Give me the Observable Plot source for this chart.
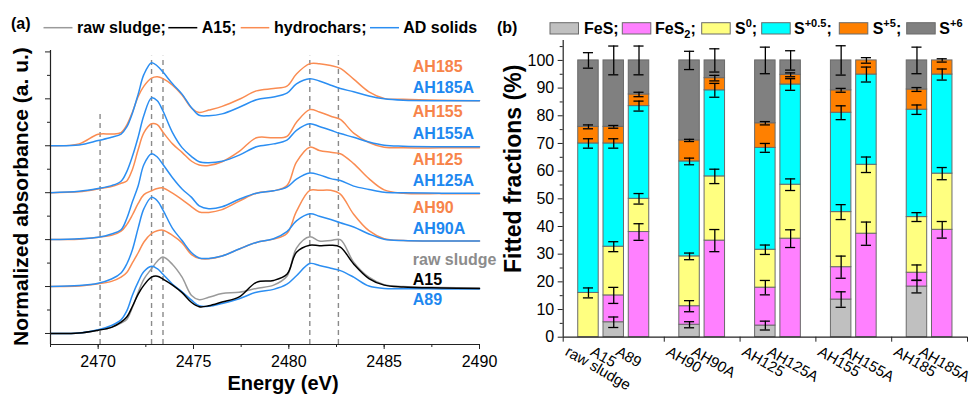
<!DOCTYPE html>
<html><head><meta charset="utf-8">
<script src="https://cdn.jsdelivr.net/npm/d3@7"></script>
<script src="https://cdn.jsdelivr.net/npm/@observablehq/plot@0.6"></script>
<style>
body{margin:0;background:#fff;}
#wrap{position:relative;width:973px;height:394px;overflow:hidden;background:#fff;}
</style></head><body><div id="wrap"></div>
<script>
// ---------- Panel (a): S K-edge XANES spectra ----------
const energy = [2467.5, 2469, 2470, 2470.7, 2471.2, 2471.5, 2471.8, 2472.1, 2472.4, 2472.8, 2473.1, 2473.4, 2473.9, 2474.4, 2474.9, 2475.3, 2475.8, 2476.5, 2477.4, 2478.3, 2479.2, 2479.9, 2480.4, 2481.1, 2481.6, 2482.2, 2482.7, 2483.4, 2484.2, 2485, 2486, 2488, 2490];
const rawSludge = [0, 0.01, 0.07, 0.13, 0.22, 0.30, 0.56, 0.88, 1.16, 1.38, 1.54, 1.63, 1.47, 1.20, 0.81, 0.72, 0.77, 0.85, 0.88, 0.96, 1.03, 1.22, 1.82, 2.06, 1.97, 1.98, 2.00, 1.52, 1.20, 1.04, 1.00, 0.98, 0.97];
const a15 = [0, 0.01, 0.07, 0.13, 0.24, 0.35, 0.58, 0.84, 1.03, 1.20, 1.22, 1.16, 1.03, 0.87, 0.66, 0.57, 0.59, 0.67, 0.78, 1.09, 1.13, 1.26, 1.73, 1.88, 1.87, 1.88, 1.84, 1.48, 1.17, 1.03, 0.99, 0.97, 0.96];
const a89 = [0, 0.01, 0.08, 0.17, 0.29, 0.48, 0.82, 1.10, 1.32, 1.43, 1.38, 1.26, 1.05, 0.89, 0.71, 0.59, 0.58, 0.64, 0.74, 0.88, 0.94, 1.05, 1.23, 1.49, 1.45, 1.39, 1.34, 1.20, 1.01, 0.96, 0.955, 0.95, 0.95];
const ah90 = [0, 0.01, 0.06, 0.11, 0.20, 0.30, 0.51, 0.72, 0.95, 1.13, 1.19, 1.20, 1.09, 0.93, 0.68, 0.60, 0.59, 0.65, 0.80, 0.94, 1.01, 1.13, 1.60, 2.05, 2.05, 2.05, 1.97, 1.54, 1.19, 1.02, 0.98, 0.97, 0.97];
const ah90A = [0, 0.02, 0.07, 0.16, 0.29, 0.48, 0.79, 1.25, 1.66, 1.90, 1.83, 1.63, 1.24, 0.98, 0.72, 0.61, 0.60, 0.65, 0.80, 0.94, 1.02, 1.17, 1.40, 1.55, 1.50, 1.43, 1.36, 1.27, 1.12, 1.01, 0.98, 0.97, 0.97];
const ah125 = [0, 0.01, 0.05, 0.09, 0.18, 0.32, 0.53, 0.77, 0.96, 1.04, 1.09, 1.10, 0.99, 0.85, 0.70, 0.59, 0.58, 0.64, 0.82, 0.99, 1.04, 1.15, 1.65, 1.97, 1.90, 1.86, 1.83, 1.62, 1.30, 1.06, 0.99, 0.98, 0.98];
const ah125A = [0, 0.02, 0.05, 0.12, 0.21, 0.45, 0.81, 1.15, 1.60, 1.83, 1.76, 1.60, 1.32, 1.08, 0.90, 0.72, 0.66, 0.70, 0.86, 0.99, 1.04, 1.12, 1.29, 1.42, 1.38, 1.30, 1.26, 1.14, 1.07, 1.01, 1.00, 0.99, 0.99];
const ah155 = [0, 0.02, 0.08, 0.13, 0.20, 0.25, 0.50, 0.92, 1.28, 1.47, 1.45, 1.29, 1.04, 0.86, 0.67, 0.59, 0.58, 0.66, 0.88, 1.17, 1.17, 1.20, 1.50, 1.77, 1.72, 1.63, 1.56, 1.27, 1.07, 0.97, 0.955, 0.955, 0.955];
const ah155A = [0, 0.03, 0.09, 0.15, 0.245, 0.45, 0.78, 1.19, 1.65, 2.02, 1.96, 1.74, 1.28, 0.96, 0.77, 0.66, 0.64, 0.67, 0.80, 0.98, 1.04, 1.12, 1.33, 1.47, 1.41, 1.33, 1.26, 1.18, 1.08, 1.01, 0.99, 0.98, 0.98];
const ah185 = [0, 0.04, 0.245, 0.25, 0.28, 0.44, 0.72, 1.05, 1.27, 1.44, 1.47, 1.43, 1.29, 1.08, 0.80, 0.71, 0.76, 0.84, 0.99, 1.17, 1.22, 1.27, 1.53, 1.75, 1.75, 1.71, 1.65, 1.42, 1.15, 1.01, 0.99, 0.97, 0.96];
const ah185A = [0, 0.015, 0.11, 0.18, 0.25, 0.40, 0.70, 1.10, 1.52, 1.77, 1.70, 1.57, 1.32, 1.10, 0.81, 0.65, 0.64, 0.68, 0.82, 0.98, 1.04, 1.12, 1.32, 1.43, 1.38, 1.29, 1.22, 1.15, 1.06, 1.00, 0.97, 0.96, 0.96];

const spectrumNames = ["raw sludge", "A15", "A89", "AH90", "AH90A", "AH125", "AH125A", "AH155", "AH155A", "AH185", "AH185A"];
const spectrumValues = [rawSludge, a15, a89, ah90, ah90A, ah125, ah125A, ah155, ah155A, ah185, ah185A];
const stackOffset = [0, 0, 0, 1, 1, 2, 2, 3, 3, 4, 4];
const spectrumKind = ["raw", "A15", "AD", "HC", "AD", "HC", "AD", "HC", "AD", "HC", "AD"];

const dashEnergy = [2470.1, 2472.8, 2473.4, 2481.1, 2482.6];
const dashTop = [4.68, 5.91, 5.91, 5.91, 5.91];

const labelText = ["AH185", "AH185A", "AH155", "AH155A", "AH125", "AH125A", "AH90", "AH90A", "raw sludge", "A15", "A89"];
const labelKind = ["HC", "AD", "HC", "AD", "HC", "AD", "HC", "AD", "raw", "A15", "AD"];
const labelY = [5.68, 5.24, 4.72, 4.26, 3.70, 3.25, 2.67, 2.22, 1.56, 1.14, 0.72];
const labelE = 2486.5;

const energyTicks = [2470, 2475, 2480, 2485, 2490];

// ---------- Panel (b): fitted fractions ----------
const samples = ["raw sludge", "A15", "A89", "AH90", "AH90A", "AH125", "AH125A", "AH155", "AH155A", "AH185", "AH185A"];
const groupSizes = [3, 2, 2, 2, 2];
const componentNames = ["FeS", "FeS2", "S0", "S+0.5", "S+5", "S+6"];
const fes   = [0, 5.4, 0, 4.5, 0, 4.2, 0, 13.6, 0, 18.3, 0];
const fes2  = [0, 9.7, 38, 6.7, 34.9, 13.7, 35.6, 11.7, 37.4, 5, 38.8];
const s0    = [16, 17.6, 12, 18, 23.2, 13.7, 19.5, 19.9, 24.9, 20.1, 20.3];
const s05   = [54, 37.3, 33.5, 34.3, 31.1, 36.8, 36.2, 35.9, 32.6, 38.8, 35.8];
const s5    = [6, 6, 4.2, 7.6, 4.4, 8.9, 3.5, 8.1, 5.1, 7.3, 5.1];
const s6    = [24, 24, 12.3, 28.9, 6.4, 22.7, 5.2, 10.8, 0, 10.5, 0];
const fesErr  = [0, 1.9, 0, 1.1, 0, 1.6, 0, 2.8, 0, 2.3, 0];
const fes2Err = [0, 2.9, 3.0, 2.0, 4.0, 2.6, 3.2, 4.0, 4.2, 2.8, 3.0];
const s0Err   = [1.8, 1.8, 1.9, 1.2, 2.6, 1.7, 2.1, 2.7, 2.8, 1.6, 2.2];
const s05Err  = [1.7, 1.7, 1.8, 1.2, 2.5, 1.6, 2.1, 2.5, 2.7, 1.7, 2.0];
const s5Err   = [0.7, 0.5, 0.8, 0.4, 1.0, 0.6, 0.7, 0.7, 1.0, 0.7, 0.6];
const s6Err   = [2.8, 5.2, 5.2, 3.3, 4.2, 4.8, 3.5, 5.3, 0, 4.8, 0];
const fractionTicks = [0, 10, 20, 30, 40, 50, 60, 70, 80, 90, 100];

// ---------- styles ----------
const FONT = "'Liberation Sans', Arial, sans-serif";
const kindColor = {raw: "#9a9a9a", A15: "#000000", HC: "#fa8c52", AD: "#2b8ef2"};
const labelColor = {raw: "#8c8c8c", A15: "#000000", HC: "#f7844a", AD: "#1e88f0"};
const compColor = ["#c0c0c0", "#ff80ff", "#ffff80", "#00ffff", "#ff8000", "#808080"];

const wrap = document.getElementById("wrap");

// Panel (a)
const Y0 = -0.235;
const drawOrder = [9, 10, 7, 8, 5, 6, 3, 4, 0, 2, 1];
const lineMarks = drawOrder.map(k => Plot.line(
  energy.map((e, i) => ({e, a: spectrumValues[k][i] + stackOffset[k]})),
  {x: "e", y: "a", stroke: kindColor[spectrumKind[k]], strokeWidth: 1.5, curve: "catmull-rom"}));

const plotA = Plot.plot({
  width: 490, height: 394,
  marginLeft: 50, marginRight: 11, marginTop: 50, marginBottom: 50,
  x: {domain: [2467.5, 2490]},
  y: {domain: [Y0, 6.03]},
  style: {fontFamily: FONT, fontSize: "16px", color: "#000", background: "transparent", overflow: "visible"},
  marks: [
    Plot.ruleX(dashEnergy.map((e, i) => ({e, top: dashTop[i]})), {x: "e", y1: Y0, y2: "top", stroke: "#8a8a8a", strokeWidth: 1.4, strokeDasharray: "5,4"}),
    ...lineMarks,
    Plot.text(labelText.map((t, i) => ({t, y: labelY[i], k: labelKind[i]})), {x: labelE, y: "y", text: "t", fill: d => labelColor[d.k], textAnchor: "start", lineAnchor: "middle", fontWeight: "bold", fontSize: 16}),
    Plot.axisX({ticks: energyTicks, tickSize: 5, tickPadding: 6, tickFormat: d => String(d), label: null, stroke: "#222"}),
    Plot.axisX({ticks: d3.range(2467.5, 2490.1, 2.5), tickSize: 3, tickFormat: () => "", label: null, stroke: "#222"}),
    Plot.axisY({ticks: d3.range(0, 7), tickSize: 5, tickFormat: () => "", label: null, stroke: "#222"}),
    Plot.axisY({ticks: d3.range(0.5, 6, 1), tickSize: 3, tickFormat: () => "", label: null, stroke: "#222"}),
    Plot.ruleX([2467.5], {stroke: "#222", strokeWidth: 1.2}),
    Plot.ruleY([Y0], {stroke: "#222", strokeWidth: 1.2}),
    Plot.text(["Energy (eV)"], {frameAnchor: "bottom", textAnchor: "middle", lineAnchor: "middle", dx: 18, dy: 39, fontWeight: "bold", fontSize: 20}),
    Plot.text(["Normalized absorbance (a. u.)"], {frameAnchor: "left", textAnchor: "middle", lineAnchor: "middle", rotate: -90, dx: -29, dy: -1, fontWeight: "bold", fontSize: 21})
  ]
});
plotA.style.position = "absolute"; plotA.style.left = "0px"; plotA.style.top = "0px";
wrap.appendChild(plotA);

// Panel (b)
const slot = [];
const separators = [0];
{ let s = 1; groupSizes.forEach(n => { for (let i = 0; i < n; i++) slot.push(s++); separators.push(s); s++; }); }
const xMax = separators[separators.length - 1];
const compValues = [fes, fes2, s0, s05, s5, s6];
const compErrors = [fesErr, fes2Err, s0Err, s05Err, s5Err, s6Err];
const segs = [], errs = [];
samples.forEach((name, i) => {
  let cum = 0;
  compValues.forEach((vals, c) => {
    const v = vals[i];
    if (v > 0) {
      segs.push({c, x1: slot[i] - 0.405, x2: slot[i] + 0.405, y1: cum, y2: cum + v});
    }
    cum += v;
    const e = compErrors[c][i];
    if (e > 0) errs.push({x: slot[i], y: cum, lo: cum - e, hi: cum + e});
  });
});
const barHalfCap = 0.2;

const plotB = Plot.plot({
  width: 483, height: 394,
  marginLeft: 72.7, marginRight: 6, marginTop: 40, marginBottom: 57.3,
  x: {domain: [0, xMax]},
  y: {domain: [0, 107.2]},
  style: {fontFamily: FONT, fontSize: "16px", color: "#000", background: "transparent", overflow: "visible"},
  marks: [
    ...compColor.map((col, c) => Plot.rect(segs.filter(d => d.c === c), {x1: "x1", x2: "x2", y1: "y1", y2: "y2", fill: col, stroke: "#6a6a6a", strokeWidth: 1})),
    Plot.ruleX(errs, {x: "x", y1: "lo", y2: "hi", stroke: "#000", strokeWidth: 1.3}),
    Plot.ruleY(errs, {y: "lo", x1: d => d.x - barHalfCap, x2: d => d.x + barHalfCap, stroke: "#000", strokeWidth: 1.3}),
    Plot.ruleY(errs, {y: "hi", x1: d => d.x - barHalfCap, x2: d => d.x + barHalfCap, stroke: "#000", strokeWidth: 1.3}),
    Plot.axisY({ticks: fractionTicks, tickSize: 5, tickPadding: 4, tickFormat: d => String(d), label: null, stroke: "#222"}),
    Plot.axisY({ticks: d3.range(5, 107, 10), tickSize: 3, tickFormat: () => "", label: null, stroke: "#222"}),
    Plot.axisX({ticks: separators, tickSize: 5, tickFormat: () => "", label: null, stroke: "#222"}),
    Plot.ruleX([0], {stroke: "#222", strokeWidth: 1.2}),
    Plot.ruleY([0], {stroke: "#222", strokeWidth: 1.2}),
    Plot.text(samples.map((t, i) => ({t, x: slot[i]})), {x: "x", y: 0, text: "t", rotate: 30, textAnchor: "start", lineAnchor: "top", dx: -19, dy: 8, fontSize: 15}),
    Plot.text(["Fitted fractions (%)"], {frameAnchor: "left", textAnchor: "middle", lineAnchor: "middle", rotate: -90, dx: -50, dy: -20, fontWeight: "bold", fontSize: 23})
  ]
});
plotB.style.position = "absolute"; plotB.style.left = "490px"; plotB.style.top = "0px";
wrap.appendChild(plotB);

// ---------- Legends (overlay) ----------
const ov = d3.select(wrap).append("svg")
  .attr("width", 973).attr("height", 394)
  .style("position", "absolute").style("left", "0px").style("top", "0px")
  .style("pointer-events", "none")
  .attr("font-family", FONT).attr("font-weight", "bold").attr("font-size", 16);

ov.append("text").attr("x", 11).attr("y", 29).text("(a)");
const legA = [
  {t: "raw sludge;", k: "raw", x1: 43.5, x2: 72.5, tx: 77},
  {t: "A15;", k: "A15", x1: 168.3, x2: 197.3, tx: 201.7},
  {t: "hydrochars;", k: "HC", x1: 240.7, x2: 269.3, tx: 274},
  {t: "AD solids", k: "AD", x1: 370, x2: 399, tx: 403.3}
];
legA.forEach(d => {
  ov.append("line").attr("x1", d.x1).attr("x2", d.x2).attr("y1", 27.7).attr("y2", 27.7)
    .attr("stroke", kindColor[d.k]).attr("stroke-width", 1.5);
  ov.append("text").attr("x", d.tx).attr("y", 32.5).text(d.t);
});

ov.append("text").attr("x", 497).attr("y", 32.5).text("(b)");
const legB = [
  {sx: 550, tx: 584, base: "FeS", sub: null, sup: null, end: ";"},
  {sx: 622.3, tx: 655, base: "FeS", sub: "2", sup: null, end: ";"},
  {sx: 701.7, tx: 735, base: "S", sub: null, sup: "0", end: ";"},
  {sx: 761.7, tx: 794, base: "S", sub: null, sup: "+0.5", end: ";"},
  {sx: 839.3, tx: 872.7, base: "S", sub: null, sup: "+5", end: ";"},
  {sx: 906.7, tx: 939.3, base: "S", sub: null, sup: "+6", end: ""}
];
legB.forEach((d, c) => {
  ov.append("rect").attr("x", d.sx).attr("y", 22.7).attr("width", 28.5).attr("height", 11.3)
    .attr("fill", compColor[c]).attr("stroke", "#6a6a6a").attr("stroke-width", 1);
  const t = ov.append("text").attr("x", d.tx).attr("y", 34);
  t.append("tspan").text(d.base);
  if (d.sub) {
    t.append("tspan").attr("dy", 4).attr("font-size", 11).text(d.sub);
    if (d.end) t.append("tspan").attr("dy", -4).text(d.end);
  } else if (d.sup) {
    t.append("tspan").attr("dy", -7).attr("font-size", 11).text(d.sup);
    if (d.end) t.append("tspan").attr("dy", 7).text(d.end);
  } else if (d.end) {
    t.append("tspan").text(d.end);
  }
});
</script></body></html>
